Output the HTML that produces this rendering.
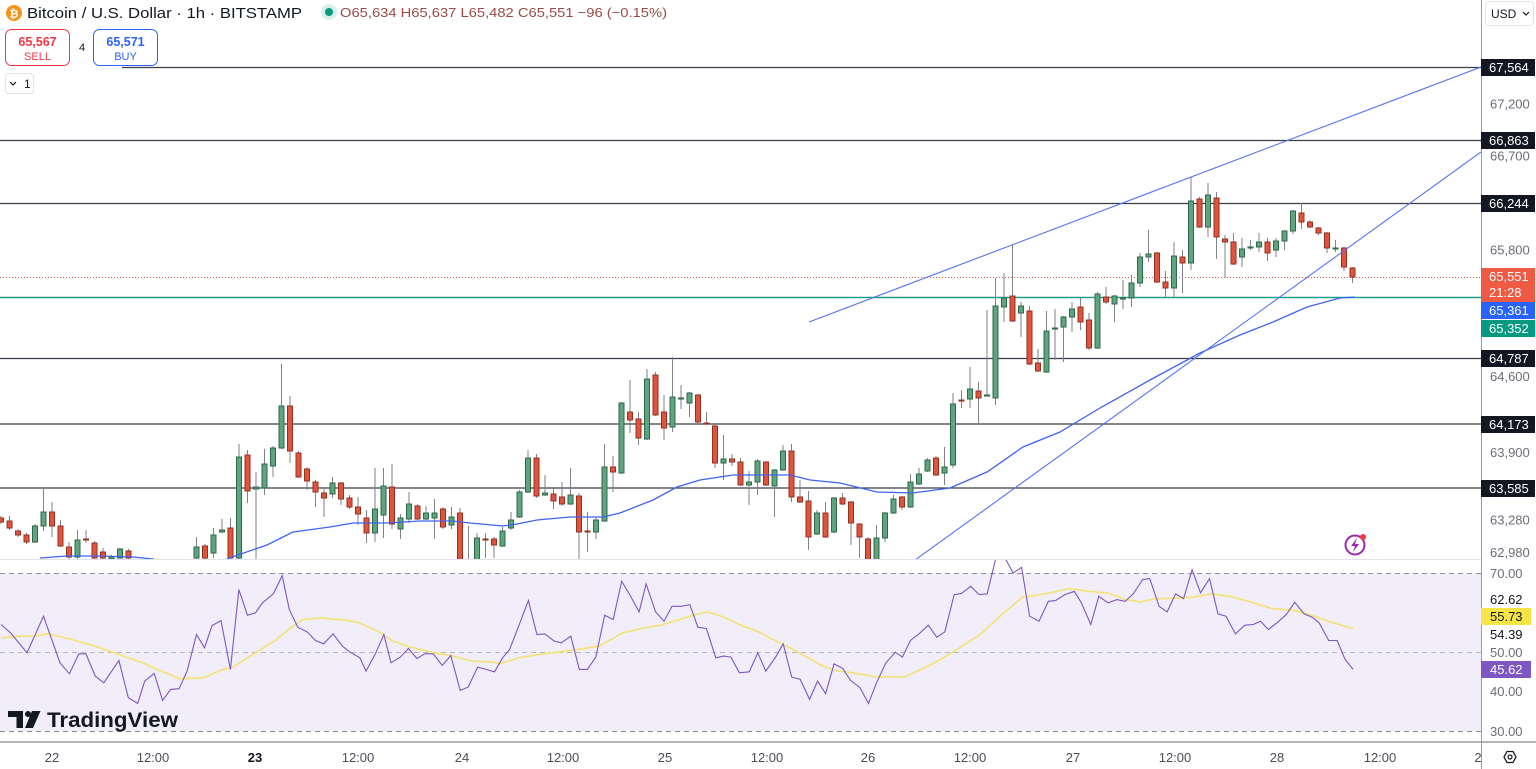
<!DOCTYPE html>
<html><head><meta charset="utf-8">
<style>
html,body{margin:0;padding:0;background:#fff;width:1536px;height:769px;overflow:hidden}
svg{display:block;font-family:"Liberation Sans",sans-serif}
</style></head>
<body>
<svg width="1536" height="769" viewBox="0 0 1536 769">
<defs>
<clipPath id="cp"><rect x="0" y="0" width="1481" height="559"/></clipPath>
<clipPath id="cr"><rect x="0" y="560" width="1481" height="182"/></clipPath>
</defs>

<!-- RSI band -->
<rect x="0" y="573" width="1481" height="158" fill="#f1edf9"/>
<line x1="0" y1="573.5" x2="1481" y2="573.5" stroke="#8a8d96" stroke-dasharray="5,4"/>
<line x1="0" y1="652.5" x2="1481" y2="652.5" stroke="#b5b7bf" stroke-dasharray="5,4"/>
<line x1="0" y1="731.5" x2="1481" y2="731.5" stroke="#8a8d96" stroke-dasharray="5,4"/>

<!-- pane separator / axes -->
<line x1="0" y1="559.5" x2="1481" y2="559.5" stroke="#e0e3eb"/>
<line x1="0" y1="742" x2="1536" y2="742" stroke="#9a9ca4" stroke-width="1.5"/>
<line x1="1481.5" y1="0" x2="1481.5" y2="769" stroke="#9a9ca4"/>

<!-- price pane -->
<g clip-path="url(#cp)">
  <line x1="122" y1="67.5" x2="1481" y2="67.5" stroke="#3a3e48" stroke-width="1.2"/>
  <line x1="0" y1="140.5" x2="1481" y2="140.5" stroke="#3a3e48" stroke-width="1.2"/>
  <line x1="0" y1="203.5" x2="1481" y2="203.5" stroke="#3a3e48" stroke-width="1.2"/>
  <line x1="0" y1="358.5" x2="1481" y2="358.5" stroke="#3a3e48" stroke-width="1.2"/>
  <line x1="0" y1="424" x2="1481" y2="424" stroke="#3a3e48" stroke-width="1.2"/>
  <line x1="0" y1="488" x2="1481" y2="488" stroke="#3a3e48" stroke-width="1.2"/>
  <line x1="0" y1="277.5" x2="1481" y2="277.5" stroke="#e8604c" stroke-width="1" stroke-dasharray="1,2"/>
  <line x1="0" y1="297.5" x2="1481" y2="297.5" stroke="#1f9e8e" stroke-width="1.6"/>
  <g id="candles"></g>
  <polyline id="ma" fill="none" stroke="#3f64f0" stroke-width="1.3" points=""/>
  <line x1="809" y1="322" x2="1481" y2="67" stroke="#5575f2" stroke-width="1.1"/>
  <line x1="915" y1="560" x2="1481" y2="152" stroke="#5575f2" stroke-width="1.1"/>
</g>

<!-- RSI lines -->
<g clip-path="url(#cr)">
  <polyline id="rsima" fill="none" stroke="#f2e374" stroke-width="1.6" points=""/>
  <polyline id="rsi" fill="none" stroke="#7e57c2" stroke-width="1.1" points=""/>
</g>

<!-- header -->
<circle cx="14" cy="13" r="8" fill="#f7931a"/>
<text x="14" y="17.5" font-size="11" font-weight="bold" fill="#fff" text-anchor="middle">₿</text>
<text x="27" y="18" font-size="15" fill="#131722" textLength="275" lengthAdjust="spacingAndGlyphs">Bitcoin / U.S. Dollar · 1h · BITSTAMP</text>
<circle cx="329" cy="12" r="8" fill="#d6f0ea"/>
<circle cx="329" cy="12" r="4" fill="#089981"/>
<text x="340" y="17" font-size="13" fill="#9b4a45" textLength="327" lengthAdjust="spacingAndGlyphs">O65,634 H65,637 L65,482 C65,551 −96 (−0.15%)</text>

<rect x="5.5" y="29.5" width="64" height="36" rx="6" fill="#fff" stroke="#f23645"/>
<text x="37.5" y="46" font-size="12.5" font-weight="bold" fill="#f23645" text-anchor="middle">65,567</text>
<text x="37.5" y="60" font-size="11" fill="#f23645" text-anchor="middle">SELL</text>
<text x="82" y="51" font-size="11" fill="#131722" text-anchor="middle">4</text>
<rect x="93.5" y="29.5" width="64" height="36" rx="6" fill="#fff" stroke="#2962ff"/>
<text x="125.5" y="46" font-size="12.5" font-weight="bold" fill="#2962ff" text-anchor="middle">65,571</text>
<text x="125.5" y="60" font-size="11" fill="#2962ff" text-anchor="middle">BUY</text>

<rect x="5.5" y="73.5" width="28" height="20" rx="3" fill="#fff" stroke="#e0e3eb"/>
<polyline points="10,82 13,85 16,82" fill="none" stroke="#131722" stroke-width="1.2"/>
<text x="24" y="88" font-size="12" fill="#131722">1</text>

<!-- USD box -->
<rect x="1485.5" y="1.5" width="48" height="24" rx="4" fill="#fff" stroke="#e0e3eb"/>
<text x="1491" y="18" font-size="12" fill="#131722">USD</text>
<polyline points="1523,12 1526,15 1529,12" fill="none" stroke="#131722" stroke-width="1.2"/>

<!-- price axis labels -->
<g font-size="13" fill="#6a6d78">
<text x="1490" y="108.5">67,200</text>
<text x="1490" y="160.5">66,700</text>
<text x="1490" y="254.5">65,800</text>
<text x="1490" y="381">64,600</text>
<text x="1490" y="457">63,900</text>
<text x="1490" y="524.5">63,280</text>
<text x="1490" y="557">62,980</text>
</g>
<g font-size="13" fill="#fff">
<rect x="1481" y="59" width="54" height="17" fill="#131722"/><text x="1489" y="72">67,564</text>
<rect x="1481" y="132" width="54" height="17" fill="#131722"/><text x="1489" y="145">66,863</text>
<rect x="1481" y="195" width="54" height="17" fill="#131722"/><text x="1489" y="208">66,244</text>
<rect x="1481" y="350" width="54" height="17" fill="#131722"/><text x="1489" y="363">64,787</text>
<rect x="1481" y="416" width="54" height="17" fill="#131722"/><text x="1489" y="429">64,173</text>
<rect x="1481" y="480" width="54" height="17" fill="#131722"/><text x="1489" y="493">63,585</text>
<rect x="1481" y="268" width="54" height="34" fill="#ef5a45"/><text x="1489" y="281">65,551</text><text x="1489" y="297">21:28</text>
<rect x="1481" y="302" width="54" height="17" fill="#2962ff"/><text x="1489" y="315">65,361</text>
<rect x="1481" y="320" width="54" height="17" fill="#089981"/><text x="1489" y="333">65,352</text>
</g>

<!-- RSI axis labels -->
<g font-size="13">
<text x="1490" y="578" fill="#6a6d78">70.00</text>
<text x="1490" y="604" fill="#131722">62.62</text>
<rect x="1481" y="608" width="50" height="17" fill="#f7e547"/><text x="1490" y="621" fill="#131722">55.73</text>
<text x="1490" y="639" fill="#131722">54.39</text>
<text x="1490" y="657" fill="#6a6d78">50.00</text>
<rect x="1481" y="661" width="50" height="17" fill="#7e57c2"/><text x="1490" y="674" fill="#fff">45.62</text>
<text x="1490" y="696" fill="#6a6d78">40.00</text>
<text x="1490" y="736" fill="#6a6d78">30.00</text>
</g>

<!-- time axis -->
<g font-size="13" fill="#4a4d57" text-anchor="middle">
<text x="52" y="762">22</text>
<text x="153" y="762">12:00</text>
<text x="255" y="762" font-weight="bold" fill="#131722">23</text>
<text x="358" y="762">12:00</text>
<text x="462" y="762">24</text>
<text x="563" y="762">12:00</text>
<text x="665" y="762">25</text>
<text x="767" y="762">12:00</text>
<text x="868" y="762">26</text>
<text x="970" y="762">12:00</text>
<text x="1073" y="762">27</text>
<text x="1175" y="762">12:00</text>
<text x="1277" y="762">28</text>
<text x="1380" y="762">12:00</text>
<text x="1478" y="762">2</text>
</g>
<rect x="1482" y="743" width="54" height="26" fill="#fff"/>
<polygon points="1504,757 1507,751.5 1513,751.5 1516,757 1513,762.5 1507,762.5" fill="none" stroke="#131722" stroke-width="1.3"/>
<circle cx="1510" cy="757" r="2" fill="none" stroke="#131722" stroke-width="1.2"/>

<!-- lightning icon -->
<circle cx="1355" cy="545" r="9.5" fill="#fff" stroke="#9c27b0" stroke-width="2"/>
<polygon points="1357,538 1351,546 1355,546 1353,552 1359,544 1355,544" fill="#9c27b0"/>
<circle cx="1363" cy="537" r="3" fill="#f23645"/>

<!-- TradingView logo -->
<path d="M8 711 h15 v17 h-6.5 v-11 h-8.5 z" fill="#131722"/>
<circle cx="28" cy="714" r="3" fill="#131722"/>
<path d="M32 711 h8.5 l-7.5 17 h-8 z" fill="#131722"/>
<text x="47" y="727" font-size="21" font-weight="bold" fill="#131722" textLength="131" lengthAdjust="spacingAndGlyphs">TradingView</text>
</svg>

<script>
(function(){
var D=[
[-102,'r',518,522,516,524],[-101,'r',521,528,516,530],[-100,'r',531,535,529,537],[-99,'r',535,542,533,544],
[-98,'g',526,542,524,543],[-97,'g',512,526,488,531],[-96,'r',512,526,502,537],[-95,'r',526,546,520,547],
[-94,'r',547,557,542,559],[-93,'g',540,557,530,560],[-92,'r',539,540,530,543],[-91,'r',543,558,541,560],
[-90,'r',552,558,548,560],[-89,'g',557,559,555,560],[-88,'g',549,558,548,560],[-87,'r',551,558,549,560],
[-79,'g',547,558,537,560],[-78,'r',546,558,544,560],[-77,'g',535,553,528,558],[-76,'g',530,532,519,533],
[-75,'r',528,558,518,560],[-74,'g',457,558,444,560],[-73,'r',455,491,450,503],[-72,'g',487,489,472,560],
[-71,'g',464,488,449,495],[-70,'g',448,466,446,477],[-69,'g',406,448,364,449],[-68,'r',406,451,396,463],
[-67,'r',453,477,451,478],[-66,'r',469,481,467,490],[-65,'r',482,492,480,507],[-64,'r',493,498,487,517],
[-63,'g',483,494,477,498],[-62,'r',483,499,482,505],[-61,'r',498,507,495,509],[-60,'r',507,514,497,525],
[-59,'r',518,533,510,543],[-58,'g',509,533,468,542],[-57,'g',486,515,468,538],[-56,'r',487,524,464,529],
[-55,'g',518,529,514,539],[-54,'g',504,519,492,523],[-53,'r',506,519,504,520],[-52,'g',513,519,506,520],
[-51,'g',513,518,499,539],[-50,'r',509,527,507,529],[-49,'g',517,525,507,529],[-48,'r',513,560,508,560],
[-47,'r',560,570,526,575],[-46,'g',538,560,533,560],[-45,'r',539,540,533,558],[-44,'r',539,545,537,558],
[-43,'g',531,546,527,547],[-42,'g',520,528,512,530],[-41,'g',492,517,490,518],[-40,'g',458,492,450,493],
[-39,'r',458,496,454,498],[-38,'g',493,495,475,496],[-37,'r',494,501,487,509],[-36,'r',497,504,482,506],
[-35,'g',495,504,468,505],[-34,'r',496,532,493,560],[-33,'r',531,532,512,552],[-32,'g',520,532,517,539],
[-31,'g',467,521,444,522],[-30,'r',467,472,456,492],[-29,'g',403,473,402,474],[-28,'r',412,420,380,433],
[-27,'r',419,438,412,445],[-26,'g',379,439,369,440],[-25,'r',375,415,372,416],[-24,'r',412,428,395,440],
[-23,'g',397,427,357,432],[-22,'g',398,399,385,409],[-21,'g',393,403,392,417],[-20,'r',395,422,394,423],
[-19,'r',423,424,412,425],[-18,'r',426,463,425,468],[-17,'g',459,463,435,480],[-16,'r',459,462,454,466],
[-15,'r',462,485,458,486],[-14,'g',482,485,471,505],[-13,'g',461,482,459,495],[-12,'r',462,485,461,486],
[-11,'g',470,486,469,517],[-10,'g',451,470,445,471],[-9,'r',451,497,444,502],[-8,'r',497,502,480,503],
[-7,'r',501,537,491,550],[-6,'g',513,534,510,535],[-5,'r',513,537,502,538],[-4,'g',498,532,497,533],
[-3,'r',498,504,493,505],[-2,'r',502,523,501,545],[-1,'r',524,537,523,558],[0,'r',539,560,537,560],
[1,'g',538,560,525,560],[2,'g',513,538,512,542],[3,'g',499,513,495,514],[4,'r',497,507,496,510],
[5,'g',482,507,474,508],[6,'g',474,484,468,485],[7,'g',460,471,458,472],[8,'r',458,475,456,476],
[9,'g',467,473,447,485],[10,'g',404,465,393,468],[11,'r',400,401,390,408],[12,'g',389,399,367,408],
[13,'r',391,398,382,423],[14,'g',395,396,310,396],[15,'g',306,398,278,405],[16,'g',298,307,273,322],
[17,'r',296,321,245,322],[18,'g',306,313,302,337],[19,'r',311,364,306,365],[20,'r',363,371,349,372],
[21,'g',331,372,311,373],[22,'g',328,329,309,360],[23,'g',317,327,316,362],[24,'g',309,317,302,332],
[25,'r',307,322,298,330],[26,'r',320,348,313,350],[27,'g',294,348,292,349],[28,'r',297,302,287,304],
[29,'g',296,304,295,322],[30,'g',298,299,280,309],[31,'g',283,298,275,307],[32,'g',257,283,253,287],
[33,'g',254,257,230,262],[34,'r',253,282,252,283],[35,'r',282,288,271,298],[36,'g',256,288,242,298],
[37,'r',257,263,250,293],[38,'g',201,263,177,270],[39,'r',199,227,197,228],[40,'g',195,227,183,237],
[41,'r',198,237,192,259],[42,'r',239,242,235,278],[43,'r',242,264,233,265],[44,'g',249,257,238,267],
[45,'g',247,248,240,250],[46,'g',242,247,233,252],[47,'r',242,253,238,261],[48,'g',241,250,238,257],
[49,'g',231,241,230,250],[50,'g',211,231,210,234],[51,'r',213,222,203,229],[52,'r',222,227,220,228],
[53,'r',228,233,227,235],[54,'r',233,248,232,253],[55,'g',248,249,240,252],[56,'r',248,267,247,271],
[57,'r',268,277,267,283]];
var s='';
for(var i=0;i<D.length;i++){
  var d=D[i],x=868+d[0]*8.5,g=d[1]==='g';
  var fill=g?'#5fa37f':'#e0533e',st=g?'#2d6a4a':'#93301f';
  s+='<line x1="'+x+'" y1="'+d[4]+'" x2="'+x+'" y2="'+d[5]+'" stroke="#80828a" stroke-width="1"/>';
  var h=Math.max(d[3]-d[2],1);
  s+='<rect x="'+(x-2.5)+'" y="'+d[2]+'" width="5" height="'+h+'" fill="'+fill+'" stroke="'+st+'" stroke-width="1"/>';
}
document.getElementById('candles').innerHTML=s;

var MA=[[40,558],[67,556],[100,556],[133,557],[153,559],[175,566],[210,566],[235,556],[267,545],[293,532],[330,527],[353,523],[387,523],[420,521],[453,521],[470,523],[503,526],[517,524],[537,520],[570,517],[603,517],[620,513],[653,500],[677,487],[700,480],[733,475],[790,475],[810,480],[840,483],[877,492],[913,493],[950,488],[987,472],[1023,447],[1060,432],[1100,408],[1150,380],[1200,353],[1240,335],[1273,322],[1307,307],[1340,298],[1355,297]];
document.getElementById('ma').setAttribute('points',MA.map(function(p){return p.join(',')}).join(' '));

function conv(arr,ax,bx){return arr.map(function(p){return (ax*p[0]+bx).toFixed(1)+','+(0.3326*p[1]+554.7).toFixed(1)}).join(' ');}
var R8=[[0,210],[20,235],[55,295],[90,185],[125,325],[145,358],[165,298],[180,298],[200,365],[218,385],[250,318],[270,430],[290,447],[305,380],[325,357],[343,438],[360,405],[378,403],[395,350],[415,240],[432,280],[448,213],[467,198],[487,345],[505,105],[523,182],[540,175],[555,145],[578,118],[597,63],[612,165],[630,218],[650,232],[668,258],[685,268],[705,238],[725,275],[740,292],[762,310],[775,350],[795,298],[813,240],[828,325],[848,308],[865,282],[883,312],[900,298],[918,298],[937,333],[955,303],[975,408],[992,398],[1012,338],[1030,345],[1048,352],[1065,310],[1080,285],[1100,212],[1120,138],[1138,240],[1155,238],[1175,260],[1190,265],[1210,245],[1228,345],[1245,345],[1263,308],[1282,182],[1300,195],[1318,80],[1335,120],[1355,172],[1370,88],[1390,172],[1408,200],[1425,155],[1445,155],[1463,150],[1480,218],[1498,222],[1518,310],[1535,305],[1550,308],[1568,355]];
var R9=[[20,352],[38,295],[55,350],[75,310],[92,268],[110,368],[128,375],[148,435],[165,380],[182,418],[200,328],[218,342],[235,378],[255,400],[273,447],[290,385],[310,325],[330,293],[345,308],[362,258],[380,238],[400,212],[418,248],[435,232],[455,120],[470,117],[490,95],[508,120],[525,118],[545,0],[565,15],[580,55],[598,38],[615,185],[635,200],[655,140],[670,138],[690,120],[710,110],[725,145],[745,210],[762,125],[782,145],[800,135],[818,140],[835,118],[855,75],[870,72],[890,155],[907,172],[925,118],[942,132],[960,45],[978,115],[997,72],[1015,178],[1032,185],[1052,238],[1072,212],[1090,210],[1105,200],[1122,225],[1140,205],[1160,180],[1178,143],[1198,178],[1215,188],[1230,205],[1250,258],[1268,258],[1285,315],[1302,345]];
var Y8=[[0,250],[40,245],[70,245],[100,238],[150,255],[200,275],[250,300],[300,325],[340,350],[380,373],[430,370],[470,345],[490,340],[540,295],[580,260],[620,215],[640,195],[680,190],[740,198],[760,205],[800,230],[830,258],[870,278],[920,295],[960,305],[1000,320],[1040,322],[1060,328],[1100,310],[1150,298],[1200,290],[1270,275],[1320,235],[1360,222],[1400,212],[1440,195],[1470,182],[1500,172],[1530,185],[1568,210]];
var Y9=[[40,232],[80,262],[120,290],[170,330],[200,348],[240,355],[290,368],[350,367],[400,335],[450,295],[510,240],[560,175],[600,128],[640,120],[700,102],[740,110],[780,115],[820,135],[850,142],[880,133],[960,128],[1000,118],[1040,125],[1080,140],[1130,162],[1180,168],[1220,185],[1260,205],[1302,222]];
document.getElementById('rsi').setAttribute('points',conv(R8,0.4708,1.15)+' '+conv(R9,0.471,739.9));
document.getElementById('rsima').setAttribute('points',conv(Y8,0.4708,1.15)+' '+conv(Y9,0.471,739.9));
})();
</script>
</body></html>
